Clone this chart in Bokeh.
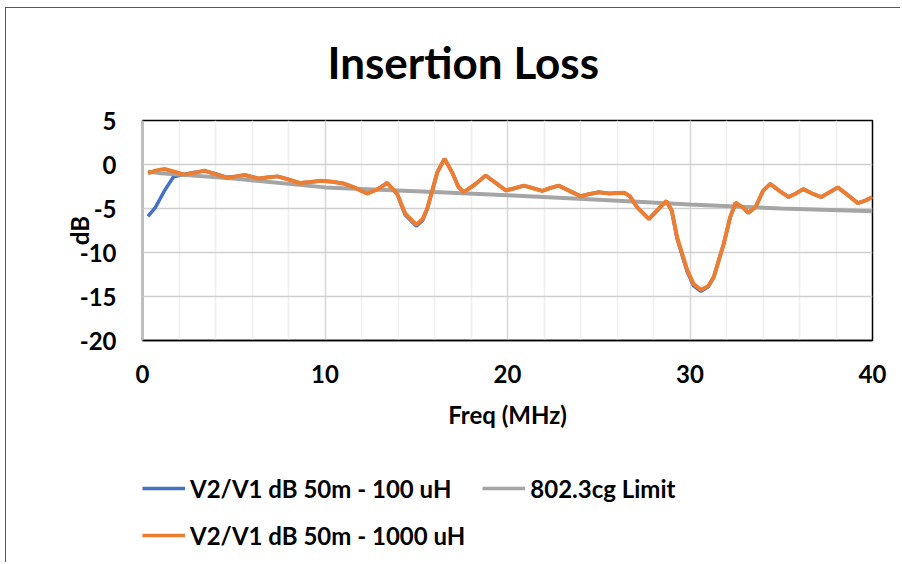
from bokeh.plotting import figure
from bokeh.layouts import column
from bokeh.models import Legend, LegendItem, FixedTicker
from bokeh.embed import file_html
from bokeh.resources import INLINE

# ---- data ----
freq_mhz = [0.3, 0.7, 1.2, 1.7, 2.3, 2.8, 3.4, 4.0, 4.6, 5.1, 5.6, 6.0, 6.4, 6.9, 7.4,
            8.0, 8.6, 9.2, 9.8, 10.4, 11.0, 11.6, 12.3, 12.9, 13.4, 13.95, 14.4, 15.0,
            15.35, 15.6, 15.9, 16.15, 16.55, 16.97, 17.3, 17.6, 18.2, 18.8, 19.3, 19.9,
            20.4, 20.9, 21.4, 21.9, 22.3, 22.8, 23.4, 24.0, 24.5, 25.0, 25.6, 26.0, 26.4,
            26.7, 27.1, 27.75, 28.3, 28.7, 29.0, 29.3, 29.85, 30.2, 30.6, 31.0, 31.3,
            31.85, 32.2, 32.5, 32.9, 33.2, 33.6, 34.0, 34.4, 34.9, 35.4, 35.8, 36.2,
            36.7, 37.2, 37.6, 38.1, 38.6, 39.2, 39.6, 40.0]

db_100uh = [-5.9, -4.9, -3.0, -1.4, -1.1, -0.9, -0.75, -1.05, -1.45, -1.35, -1.2, -1.4, -1.6,
            -1.45, -1.35, -1.7, -2.1, -2.0, -1.85, -1.95, -2.15, -2.6, -3.3, -2.8, -2.1, -3.35,
            -5.75, -7.0, -6.35, -5.1, -2.8, -0.9, 0.65, -0.9, -2.5, -3.15, -2.3, -1.25, -2.0,
            -2.95, -2.7, -2.4, -2.7, -3.0, -2.7, -2.4, -3.0, -3.6, -3.35, -3.15, -3.3, -3.25,
            -3.2, -3.6, -4.85, -6.2, -5.0, -4.15, -5.3, -8.5, -12.2, -13.8, -14.4, -13.9,
            -12.8, -9.0, -6.0, -4.35, -4.9, -5.5, -4.8, -3.0, -2.2, -3.0, -3.7, -3.3, -2.8,
            -3.3, -3.7, -3.2, -2.6, -3.4, -4.4, -4.1, -3.7]

db_1000uh = [-1.0, -0.7, -0.5, -0.8, -1.15, -0.95, -0.7, -1.1, -1.5, -1.35, -1.2, -1.4, -1.6,
             -1.45, -1.35, -1.7, -2.1, -2.0, -1.85, -1.95, -2.15, -2.6, -3.3, -2.8, -2.1, -3.3,
             -5.6, -6.85, -6.2, -5.0, -2.8, -0.9, 0.65, -0.9, -2.5, -3.15, -2.3, -1.25, -2.0,
             -2.95, -2.7, -2.4, -2.7, -3.0, -2.7, -2.4, -3.0, -3.6, -3.35, -3.15, -3.3, -3.25,
             -3.2, -3.6, -4.85, -6.2, -5.0, -4.15, -5.2, -8.3, -12.0, -13.6, -14.25, -13.8,
             -12.8, -9.0, -6.0, -4.35, -4.9, -5.5, -4.8, -3.0, -2.2, -3.0, -3.7, -3.3, -2.8,
             -3.3, -3.7, -3.2, -2.6, -3.4, -4.4, -4.1, -3.7]

limit_freq = [0.3, 1, 2, 5, 10, 15, 20, 25, 30, 35, 40]
limit_db = [-0.8, -1.0, -1.15, -1.6, -2.6, -3.05, -3.5, -4.0, -4.55, -5.0, -5.3]

series_labels = ["V2/V1 dB 50m - 100 uH", "802.3cg Limit", "V2/V1 dB 50m - 1000 uH"]
series_colors = ["#4472C4", "#A5A5A5", "#ED7D31"]

x_ticks = [0, 10, 20, 30, 40]
y_ticks = [5, 0, -5, -10, -15, -20]

FONT = "Lato"
EDGE_IMG = "linear-gradient(#595959, #595959)"

p = figure(width=900, height=462, output_backend="svg", toolbar_location=None,
           x_range=(0, 40), y_range=(-20, 5),
           min_border_left=142, min_border_right=28, min_border_top=120,
           min_border_bottom=122)
# thin chart-area edge (left and top), drawn as CSS background behind a transparent border area
p.border_fill_alpha = 0
p.styles = {"background-image": EDGE_IMG + ", " + EDGE_IMG,
            "background-repeat": "no-repeat",
            "background-position": "5px 7px, 5px 7px",
            "background-size": "100% 1px, 1px 100%"}

p.title.text = "Insertion Loss"
p.title.align = "left"
p.title.offset = 185
p.title.text_font = FONT
p.title.text_font_style = "bold"
p.title.text_font_size = "44px"
p.title.text_color = "black"
p.title.standoff = 66

# grids
p.xaxis.ticker = FixedTicker(ticks=x_ticks, minor_ticks=list(range(0, 41, 2)))
p.yaxis.ticker = FixedTicker(ticks=y_ticks)
p.yaxis.major_label_overrides = {t: str(t) for t in y_ticks}
p.xgrid.grid_line_color = "#d9d9d9"
p.xgrid.grid_line_width = 1.5
p.xgrid.minor_grid_line_color = "#efefef"
p.xgrid.minor_grid_line_width = 1.5
p.ygrid.grid_line_color = "#d0d0d0"
p.ygrid.grid_line_width = 1.5

p.outline_line_color = "black"
p.outline_line_width = 1.5

for ax in (p.xaxis, p.yaxis):
    ax.major_tick_line_color = None
    ax.minor_tick_line_color = None
    ax.major_label_text_font = FONT
    ax.major_label_text_font_style = "bold"
    ax.major_label_text_font_size = "24px"
    ax.major_label_text_color = "black"
    ax.axis_label_text_font = FONT
    ax.axis_label_text_font_style = "bold"
    ax.axis_label_text_font_size = "24px"
    ax.axis_label_text_color = "black"

p.xaxis.axis_line_color = "black"
p.xaxis.axis_line_width = 1.5
p.yaxis.axis_line_color = "#bfbfbf"
p.yaxis.axis_line_width = 2
p.xaxis.axis_label = "Freq (MHz)"
p.yaxis.axis_label = "dB"
p.xaxis.major_label_standoff = 18
p.xaxis.axis_label_standoff = 14
p.yaxis.major_label_standoff = 20
p.yaxis.axis_label_standoff = -17

r_blue = p.line(freq_mhz, db_100uh, line_color=series_colors[0], line_width=3.5)
r_grey = p.line(limit_freq, limit_db, line_color=series_colors[1], line_width=4)
r_orange = p.line(freq_mhz, db_1000uh, line_color=series_colors[2], line_width=4)

# ---- legend strip below the chart (separate figure so it is not clipped) ----
# the series are drawn here far outside the visible range; only their legend samples show
lg = figure(width=900, height=100, output_backend="svg", toolbar_location=None,
            x_range=(0, 1), y_range=(100, 101),
            min_border_left=0, min_border_right=0, min_border_top=0, min_border_bottom=0)
lg.border_fill_alpha = 0
lg.background_fill_alpha = 0
lg.styles = {"background-image": EDGE_IMG,
             "background-repeat": "no-repeat",
             "background-position": "5px 0px",
             "background-size": "1px 100%"}
lg.axis.visible = False
lg.grid.visible = False
lg.outline_line_color = None
series_xy = [(freq_mhz, db_100uh), (limit_freq, limit_db), (freq_mhz, db_1000uh)]
items = []
for lab, col, (xs, ys) in zip(series_labels, series_colors, series_xy):
    r = lg.line(xs, ys, line_color=col, line_width=3.5)
    items.append(LegendItem(label=lab, renderers=[r]))

legend = Legend(items=items, location=(0, 12), ncols=2, orientation="horizontal")
legend.label_text_font = FONT
legend.label_text_font_style = "bold"
legend.label_text_font_size = "24px"
legend.label_text_color = "black"
legend.glyph_width = 43
legend.glyph_height = 30
legend.label_height = 30
legend.label_width = 265
legend.label_standoff = 5
legend.spacing = 17
legend.padding = 0
legend.margin = 0
legend.border_line_color = None
legend.background_fill_alpha = 0
lg.add_layout(legend, "center")

layout = column(p, lg, spacing=0)
open("out.html", "w").write(file_html(layout, INLINE))
